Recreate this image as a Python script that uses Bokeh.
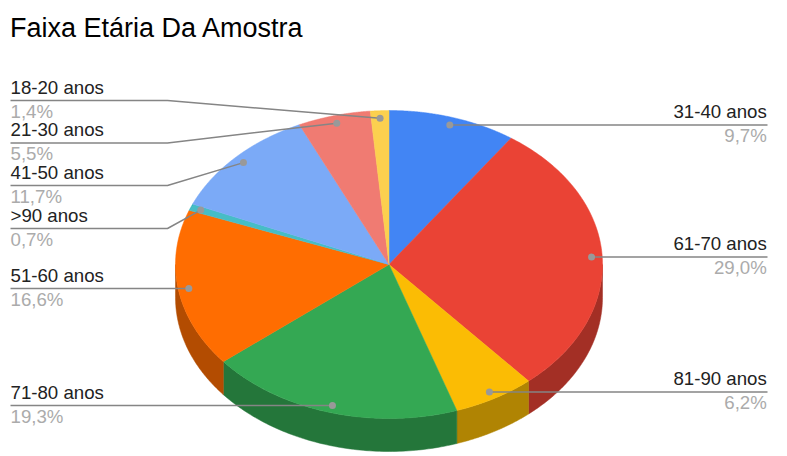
import numpy as np
from bokeh.plotting import figure
from bokeh.embed import file_html
from bokeh.resources import INLINE
from bokeh.core.properties import value

# data, clockwise from 12 o'clock
categories = ["31-40 anos", "61-70 anos", "81-90 anos", "71-80 anos", "51-60 anos",
              ">90 anos", "41-50 anos", "21-30 anos", "18-20 anos"]
shares = [9.7, 29.0, 6.2, 19.3, 16.6, 0.7, 11.7, 5.5, 1.4]
share_labels = ["9,7%", "29,0%", "6,2%", "19,3%", "16,6%", "0,7%", "11,7%", "5,5%", "1,4%"]
title_text = "Faixa Etária Da Amostra"

# styling
top_colors = ["#4285F4", "#EA4335", "#FBBC04", "#34A853", "#FF6D01",
              "#46BDC6", "#7BAAF7", "#F07B72", "#FCD04F"]
side_colors = ["#2E5DAB", "#A32F25", "#B08403", "#24763A", "#B34C01",
               "#31848B", "#5677AD", "#A85650", "#B09237"]

# layout (page pixels)
W, H = 787, 456
CX, CY, RX, RY, DEPTH = 388.5, 264.0, 213.5, 154.0, 33.0
DOT_R = 0.95
FONT = value("Liberation Sans")
LEFT_X, ELBOW_X, RIGHT_X = 10.0, 167.0, 767.0
label_side = ["r", "r", "r", "l", "l", "l", "l", "l", "l"]
label_row = [124.5, 256.5, 391.5, 405.0, 288.0, 228.0, 185.0, 142.5, 100.0]
NAME_DY, VALUE_DY, TITLE_Y = -13.5, 10.5, 27.5

p = figure(width=W, height=H, x_range=(0, W), y_range=(H, 0),
           x_axis_type=None, y_axis_type=None, toolbar_location=None,
           output_backend="svg", min_border=0, outline_line_color=None,
           background_fill_color="white", border_fill_color="white")
p.grid.visible = False


def pt(angle, dy=0.0, k=1.0):
    return CX + k * RX * np.sin(angle), CY + dy - k * RY * np.cos(angle)


total = sum(shares)
edges = np.concatenate([[0], np.cumsum(shares)]) / total * 2 * np.pi
mids = (edges[:-1] + edges[1:]) / 2

# side wall: only the front half of the rim shows
for i in range(len(shares)):
    a0, a1 = max(edges[i], np.pi / 2), min(edges[i + 1], 3 * np.pi / 2)
    if a1 <= a0:
        continue
    t = np.linspace(a0, a1, 80)
    xt, yt = pt(t)
    xb, yb = pt(t[::-1], DEPTH)
    p.patch(np.r_[xt, xb], np.r_[yt, yb], fill_color=side_colors[i],
            line_color=side_colors[i], line_width=0.5)

# top face
for i in range(len(shares)):
    t = np.linspace(edges[i], edges[i + 1], 120)
    x, y = pt(t)
    p.patch(np.r_[CX, x], np.r_[CY, y], fill_color=top_colors[i],
            line_color=top_colors[i], line_width=0.5)

# leader lines, dots and labels
GREY = "#858585"
for i, name in enumerate(categories):
    dx, dy = pt(mids[i], k=DOT_R)
    row = label_row[i]
    if abs(dy - row) < 3:
        dy = row
    if label_side[i] == "r":
        p.line([dx, RIGHT_X], [row, row], line_color=GREY, line_width=1.5)
        tx, align = RIGHT_X - 0.7, "right"
    else:
        p.line([LEFT_X, ELBOW_X, dx], [row, row, dy], line_color=GREY, line_width=1.5)
        tx, align = LEFT_X, "left"
    p.scatter([dx], [dy], size=7, fill_color="#999999", line_color=None)
    p.text([tx], [row + NAME_DY], text=[name], text_font=FONT, text_font_size="18.67px",
           text_color="#222222", text_align=align, text_baseline="alphabetic")
    p.text([tx], [row + VALUE_DY], text=[share_labels[i]], text_font=FONT, text_font_size="18.67px",
           text_color="#ABABAB", text_align=align, text_baseline="alphabetic")

p.text([9.5], [TITLE_Y], text=[title_text], text_font=FONT, text_font_size="27px",
       text_color="#000000", text_align="left", text_baseline="alphabetic")

open("out.html", "w").write(file_html(p, INLINE))
